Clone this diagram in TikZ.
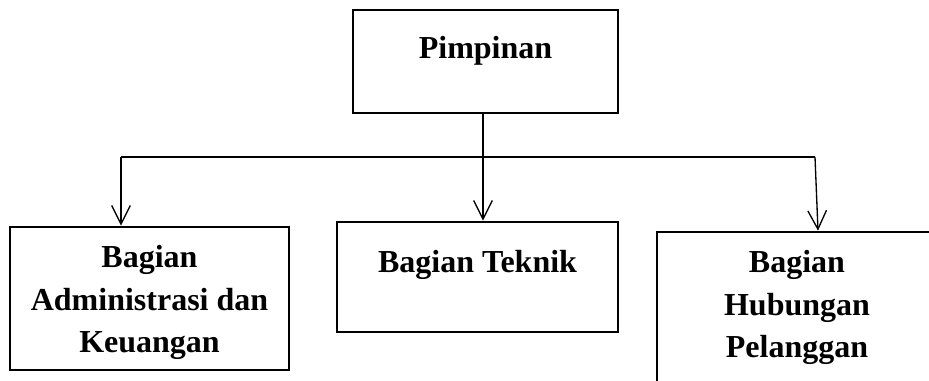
\documentclass[tikz,border=0pt]{standalone}
\usepackage{fontspec}
\setmainfont{Liberation Serif}
\usetikzlibrary{arrows.meta, positioning}

\begin{document}
\begin{tikzpicture}[x=0.75pt, y=-0.75pt,
                    unit/.style={draw, line width=2pt, inner sep=0pt},
                    unittext/.style={align=center, inner sep=0pt, font=\bfseries\fontsize{24}{32}\selectfont},
                    link/.style={line width=1pt},
                    arr/.style={line width=1pt, -{Straight Barb[length=14pt, width=14pt]}}]
                    \clip (0,0) rectangle (929,380);
                    \node[unit, minimum width=198.75pt, minimum height=77.25pt](pim) at (485.5,61.5){};
                    \node[unit, minimum width=209.25pt, minimum height=107.25pt](adm) at (149.5,298.5){};
                    \node[unit, minimum width=210.75pt, minimum height=82.5pt](tek) at (477.5,277){};
                    \node[unit, minimum width=210pt, minimum height=120pt](hub) at (797,312){};

                    \node[unittext, below=20.25pt of pim.north](pimtext){Pimpinan};
                    \node[unittext, below=14.6pt of adm.north](admtext){Bagian\\Administrasi dan\\Keuangan};
                    \node[unittext, below=22pt of tek.north](tektext){Bagian Teknik};
                    \node[unittext, below=14.6pt of hub.north](hubtext){Bagian\\Hubungan\\Pelanggan};

                    \coordinate(busm) at (483,157);
                    \coordinate(busl) at (121,157);
                    \coordinate(busr) at (815,157);
                    \draw[link] (pim.south -| busm) -- (busm);
                    \draw[link, line width=1.5pt] (busl) -- (busr);
                    \draw[arr] (busl) -- (busl |- adm.north);
                    \draw[arr] (busm) -- (busm |- tek.north);
                    \draw[arr] (busr) -- ([xshift=2.25pt]busr |- hub.north);
                \end{tikzpicture}
\end{document}
